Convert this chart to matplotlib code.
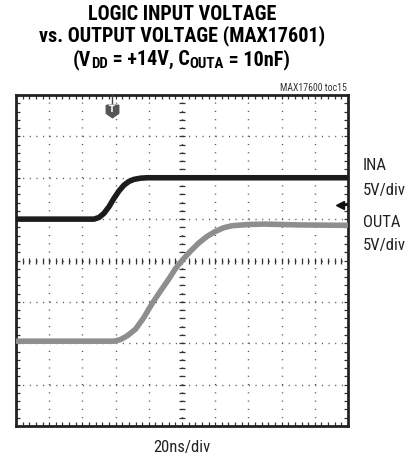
import numpy as np
import matplotlib
matplotlib.use("Agg")
from matplotlib import pyplot as plt
from matplotlib import font_manager

installed = {f.name for f in font_manager.fontManager.ttflist}
prefs = ["Liberation Sans Narrow", "Roboto Condensed", "DejaVu Sans Condensed",
         "Open Sans Condensed", "Noto Sans Condensed", "Roboto", "DejaVu Sans"]
NARROW = [f for f in prefs if f in installed][0]

# scope traces, in divisions (x: 0..10, y: 0..8 from bottom)
ina_t = [0.0, 2.35, 2.5, 2.65, 2.8, 2.95, 3.1, 3.25, 3.4, 3.55, 3.75, 3.95, 10.0]
ina_v = [5.0, 5.0, 5.04, 5.14, 5.3, 5.5, 5.68, 5.82, 5.91, 5.96, 5.99, 6.0, 6.0]
outa_t = [0.0, 2.95, 3.15, 3.35, 3.6, 3.85, 4.1, 4.35, 4.6, 4.8, 5.0, 5.25, 5.5,
          5.75, 6.0, 6.25, 6.5, 7.0, 7.5, 8.5, 10.0]
outa_v = [2.05, 2.05, 2.09, 2.18, 2.34, 2.62, 2.96, 3.26, 3.55, 3.8, 4.0,
          4.22, 4.42, 4.58, 4.7, 4.79, 4.84, 4.87, 4.88, 4.86, 4.85]

fig = plt.figure(figsize=(4.09, 4.65), dpi=100)
ax = fig.add_axes([16 / 409, 39 / 465, 332 / 409, 331 / 465])
ax.set_xlim(0, 10)
ax.set_ylim(0, 8)

# dotted graticule
for gx in range(1, 10):
    ax.axvline(gx, color="#555555", lw=1.0, dashes=(0.8, 5.16), zorder=1)
for gy in range(1, 8):
    ax.axhline(gy, color="#555555", lw=1.0, dashes=(0.8, 3.98), zorder=1)

# center cross with fine ticks
fine_x = np.arange(0, 10.01, 0.2)
fine_y = np.arange(0, 8.01, 0.2)
ax.plot(fine_x, np.full_like(fine_x, 4.0), ls="none", marker="|", ms=5,
        mew=0.9, color="#333333", zorder=1)
ax.plot(np.full_like(fine_y, 5.0), fine_y, ls="none", marker="_", ms=5,
        mew=0.9, color="#333333", zorder=1)

ax.plot(ina_t, ina_v, color="#1c1c1c", lw=4.0, solid_capstyle="butt", zorder=3)
ax.plot(outa_t, outa_v, color="#8e8e8e", lw=4.0, solid_capstyle="butt", zorder=3)

# border ticks
ax.set_xticks(fine_x)
ax.set_yticks(fine_y)
ax.tick_params(direction="in", length=3, width=0.9, color="#333333",
               top=True, right=True, labelbottom=False, labelleft=False)
for sp in ax.spines.values():
    sp.set_linewidth(2.0)
    sp.set_color("#222222")

# trigger marker and ground arrow
shield = [(-1, 1), (1, 1), (1, -0.3), (0, -1), (-1, -0.3), (-1, 1)]
ax.plot([2.9, 2.9], [8.0, 7.8], color="#444444", lw=1.0, zorder=4)
ax.plot([2.9], [7.62], marker=shield, ms=9, color="#555555", zorder=4)
ax.text(2.9, 7.66, "T", color="white", fontsize=6, fontweight="bold",
        ha="center", va="center", zorder=5)
ax.plot([9.75], [5.34], marker="<", ms=6, color="#111111", zorder=4)
ax.plot([9.75, 10.0], [5.34, 5.34], color="#111111", lw=1.5, zorder=4)

fam = [NARROW, "DejaVu Sans"]
tfs = 14.5
fig.text(182 / 409, 1 - 15 / 465, "LOGIC INPUT VOLTAGE", ha="center", va="center",
         fontsize=tfs, fontweight="bold", family=fam)
fig.text(182 / 409, 1 - 36 / 465, "vs. OUTPUT VOLTAGE (MAX17601)", ha="center",
         va="center", fontsize=tfs, fontweight="bold", family=fam)

# third title line built from runs so the subscripts sit lower and smaller
runs = [("(V", tfs, 0), ("DD", tfs * 0.74, -2.5), (" = +14V, C", tfs, 0),
        ("OUTA", tfs * 0.74, -2.5), (" = 10nF)", tfs, 0)]
renderer = fig.canvas.get_renderer()
pieces = []
for s, fs, dy in runs:
    t = fig.text(0, 0, s, fontsize=fs, fontweight="bold", family=fam,
                 ha="left", va="baseline")
    pieces.append((t, t.get_window_extent(renderer).width, dy))
total = sum(w for _, w, _ in pieces)
x0 = 181 - total / 2
base = 465 - 65
for t, w, dy in pieces:
    t.set_position((x0 / 409, (base + dy) / 465))
    x0 += w

fig.text(347 / 409, 1 - 88 / 465, "MAX17600 toc15", ha="right", va="center",
         fontsize=7, color="#333333", family=fam)

side = dict(fontsize=12, color="#222222", family=fam, ha="left", va="center")
fig.text(363 / 409, 1 - 166 / 465, "INA", **side)
fig.text(363 / 409, 1 - 190 / 465, "5V/div", **side)
fig.text(363 / 409, 1 - 222 / 465, "OUTA", **side)
fig.text(363 / 409, 1 - 245 / 465, "5V/div", **side)
fig.text(182 / 409, 1 - 447 / 465, "20ns/div", ha="center", va="center",
         fontsize=12, color="#222222", family=fam)

fig.savefig("out.png", dpi=100)
